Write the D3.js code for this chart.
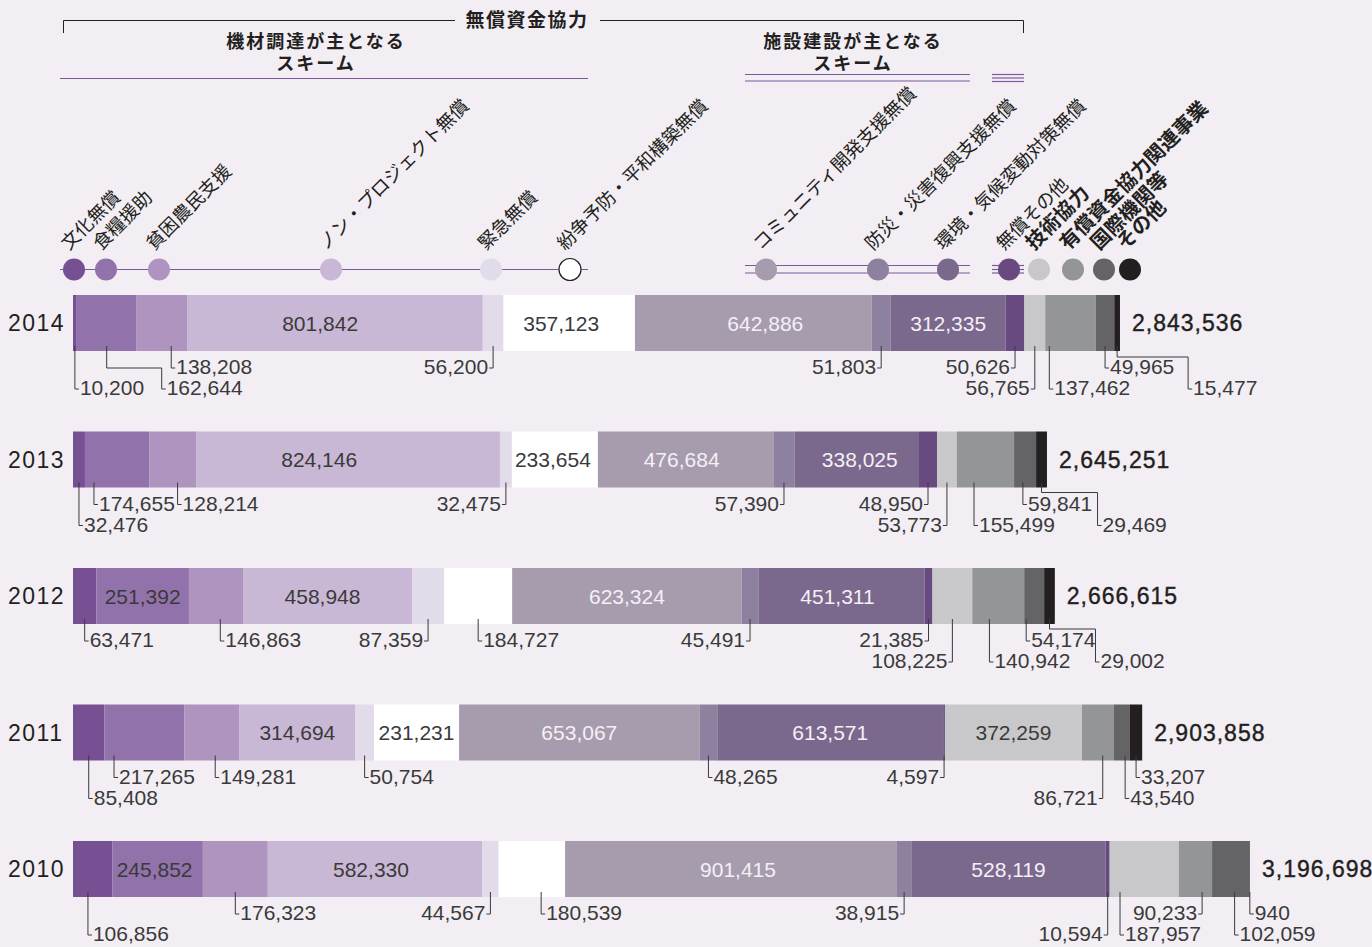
<!DOCTYPE html>
<html lang="ja">
<head>
<meta charset="UTF-8">
<title>無償資金協力 スキーム別実績</title>
<script src="https://d3js.org/d3.v7.min.js"></script>
<style>
  body { margin: 0; background: #f2eef4; }
  .jp { font-family: "Noto Sans CJK JP", "Noto Sans", sans-serif; fill: #231f20; }
  .num { font-family: "Liberation Sans", Arial, sans-serif; font-size: 21px; fill: #3a3a3a; }
</style>
</head>
<body>
<div id="chart"></div>
<script>
// data
const years = ["2014", "2013", "2012", "2011", "2010"];
const categories = ["文化無償", "食糧援助", "貧困農民支援", "ノン・プロジェクト無償", "緊急無償",
  "紛争予防・平和構築無償", "コミュニティ開発支援無償", "防災・災害復興支援無償", "環境・気候変動対策無償",
  "無償その他", "技術協力", "有償資金協力関連事業", "国際機関等", "その他"];
const v2014 = [10200, 162644, 138208, 801842, 56200, 357123, 642886, 51803, 312335, 50626, 56765, 137462, 49965, 15477];
const v2013 = [32476, 174655, 128214, 824146, 32475, 233654, 476684, 57390, 338025, 48950, 53773, 155499, 59841, 29469];
const v2012 = [63471, 251392, 146863, 458948, 87359, 184727, 623324, 45491, 451311, 21385, 108225, 140942, 54174, 29002];
const v2011 = [85408, 217265, 149281, 314694, 50754, 231231, 653067, 48265, 613571, 4597, 372259, 86721, 43540, 33207];
const v2010 = [106856, 245852, 176323, 582330, 44567, 180539, 901415, 38915, 528119, 10594, 187957, 90233, 102059, 940];
const totals = [2843536, 2645251, 2666615, 2903858, 3196698];

const colors = ["#774f93", "#9272aa", "#ae94bf", "#c9b8d5", "#e2dbea", "#ffffff", "#a69cae",
  "#8e809f", "#7b688d", "#684a80", "#c8c8ca", "#949598", "#646466", "#231f20"];
const boldCats = [10, 11, 12, 13];
const whiteText = [6, 8];

// label placement: in = inside (dx shift), R/L = text right/left of leader, row 1/2, anchor fraction, elbow [dy, dx]
const L = (m, r, f = 0.5, e = null) => ({ m, r, f, e });
const I = (dx = 0) => ({ m: "in", dx });
const IN = I();
const labels = {
  "2014": [L("R", 2), L("R", 2, .5, [17, 55]), L("R", 1, .68), I(-15), L("L", 1), I(-8), I(12), L("L", 1), IN, L("L", 1), L("L", 2), L("R", 2, .08), L("R", 1), L("R", 2, .5, [6, 71])],
  "2013": [L("R", 2), L("R", 1, .14), L("R", 1, .6), I(-29), L("L", 1), I(-2), I(-4), L("L", 1), I(3), L("L", 1), L("L", 2), L("R", 2, .3), L("R", 1, .4), L("R", 2, .5, [5, 56])],
  "2012": [L("R", 1), IN, L("R", 1, .58), I(-5), L("L", 1), L("R", 1), IN, L("L", 1), I(-4), L("L", 1), L("L", 2), L("R", 2, .33), L("R", 1, .1), L("R", 2, .5, [5, 46])],
  "2011": [L("R", 2), L("R", 1, .12), L("R", 1, .56), IN, L("R", 1), IN, IN, L("R", 1), IN, L("L", 1), IN, L("L", 2, .65), L("R", 2, .7), L("R", 1)],
  "2010": [L("R", 2, .38), I(-3), L("R", 1), I(-4), L("L", 1), L("R", 1, .64), I(7), L("L", 1), IN, L("L", 2), L("R", 2, .15), L("L", 1, .7), L("R", 2, .6), L("R", 1)]
};

// legend circle centres
const legendX = [74, 106, 159, 331, 491, 570, 766, 878, 948, 1009, 1039, 1073, 1104, 1130];

const width = 1372, height = 947;
const svg = d3.select("#chart").append("svg")
  .attr("width", width).attr("height", height);
svg.append("rect").attr("width", width).attr("height", height).attr("fill", "#f2eef4");

const valuesByYear = [v2014, v2013, v2012, v2011, v2010];
const table = years.map((yr, i) => {
  const row = { year: yr };
  categories.forEach((c, j) => row[c] = valuesByYear[i][j]);
  return row;
});
const series = d3.stack().keys(categories)(table);

const x = d3.scaleLinear().domain([0, d3.max(totals)]).range([73, 1250]);
const y = d3.scalePoint().domain(years).range([295, 841]);
const barH = 56;
const fmt = d3.format(",");
const purple = "#7b5a9c";

// header
const head = svg.append("g");
head.append("path").attr("d", "M63.5,33V20.5H455M600,20.5H1023.5V33")
  .attr("fill", "none").attr("stroke", "#231f20");
head.append("text").attr("class", "jp").attr("x", 527).attr("y", 27)
  .attr("text-anchor", "middle").attr("font-size", 19).attr("font-weight", 700)
  .attr("letter-spacing", 1.5).text("無償資金協力");
[["機材調達が主となる", "スキーム", 315], ["施設建設が主となる", "スキーム", 852]].forEach(d => {
  [d[0], d[1]].forEach((s, k) => {
    head.append("text").attr("class", "jp").attr("text-anchor", "middle")
      .attr("font-size", 18).attr("font-weight", 700).attr("letter-spacing", 2)
      .attr("x", d[2] + 1).attr("y", k ? 70 : 48).text(s);
  });
});
const hline = (g, x1, x2, yy) => g.append("line").attr("x1", x1).attr("x2", x2)
  .attr("y1", yy).attr("y2", yy).attr("stroke", purple).attr("stroke-width", 1.2);
hline(head, 60, 588, 78.5);
[74.5, 81].forEach(yy => hline(head, 745, 970, yy));
[74.5, 78, 81.5].forEach(yy => hline(head, 992, 1024, yy));

// legend
const leg = svg.append("g");
hline(leg, 60, 588, 269.5);
[265.5, 273].forEach(yy => hline(leg, 745, 970, yy));
[265.5, 269.5, 273].forEach(yy => hline(leg, 992, 1024, yy));
leg.selectAll("circle").data(categories).join("circle")
  .attr("cx", (d, i) => legendX[i]).attr("cy", 269.5).attr("r", 11)
  .attr("fill", (d, i) => colors[i])
  .attr("stroke", (d, i) => i === 5 ? "#231f20" : "none").attr("stroke-width", 1.2);
leg.selectAll("text").data(categories).join("text")
  .attr("class", "jp")
  .attr("transform", (d, i) => `translate(${legendX[i] - 5},251) rotate(-45)`)
  .attr("font-size", (d, i) => boldCats.includes(i) ? 20 : 18.5)
  .attr("font-weight", (d, i) => boldCats.includes(i) ? 700 : 400)
  .text(d => d);

// bars
const bars = svg.append("g");
series.forEach((s, i) => {
  bars.selectAll(null).data(s).join("rect")
    .attr("x", d => x(d[0]))
    .attr("y", d => y(d.data.year))
    .attr("width", d => Math.max(0, x(d[1]) - x(d[0])))
    .attr("height", barH)
    .attr("fill", colors[i]);
});

// year labels and totals
svg.append("g").selectAll("text").data(years).join("text")
  .attr("class", "num").attr("x", 8).attr("y", d => y(d) + barH / 2 + 8)
  .style("font-size", "23px").attr("letter-spacing", 1.5).style("fill", "#231f20")
  .text(d => d);
svg.append("g").selectAll("text").data(totals).join("text")
  .attr("class", "num").attr("x", d => x(d) + 12).attr("y", (d, i) => y(years[i]) + barH / 2 + 8)
  .style("font-size", "23px").attr("letter-spacing", 1).style("fill", "#231f20")
  .attr("stroke", "#231f20").attr("stroke-width", 0.4)
  .text(d => fmt(d));

// value labels
const lab = svg.append("g");
years.forEach((yr, yi) => {
  const top = y(yr), bottom = top + barH;
  labels[yr].forEach((spec, ci) => {
    const seg = series[ci][yi];
    const x0 = x(seg[0]), x1 = x(seg[1]);
    const txt = fmt(valuesByYear[yi][ci]);
    if (spec.m === "in") {
      lab.append("text").attr("class", "num")
        .attr("x", (x0 + x1) / 2 + spec.dx).attr("y", top + barH / 2 + 7.5)
        .attr("text-anchor", "middle")
        .style("fill", whiteText.includes(ci) ? "#f4f0f6" : "#3a3a3a")
        .text(txt);
      return;
    }
    const ax = x0 + spec.f * (x1 - x0);
    const base = bottom + (spec.r === 1 ? 23 : 44);
    const endY = base - 6;
    let p = `M${ax},${bottom - 5}`;
    let lx = ax;
    if (spec.e) {
      p += `V${bottom + spec.e[0]}H${ax + spec.e[1]}`;
      lx = ax + spec.e[1];
    }
    p += `V${endY}`;
    const dir = spec.m === "R" ? 1 : -1;
    p += `H${lx + dir * 4}`;
    lab.append("path").attr("d", p).attr("fill", "none")
      .attr("stroke", "#3a3a3a").attr("stroke-width", 1);
    lab.append("text").attr("class", "num")
      .attr("x", lx + dir * 5).attr("y", base)
      .attr("text-anchor", dir > 0 ? "start" : "end")
      .text(txt);
  });
});
</script>
</body>
</html>
